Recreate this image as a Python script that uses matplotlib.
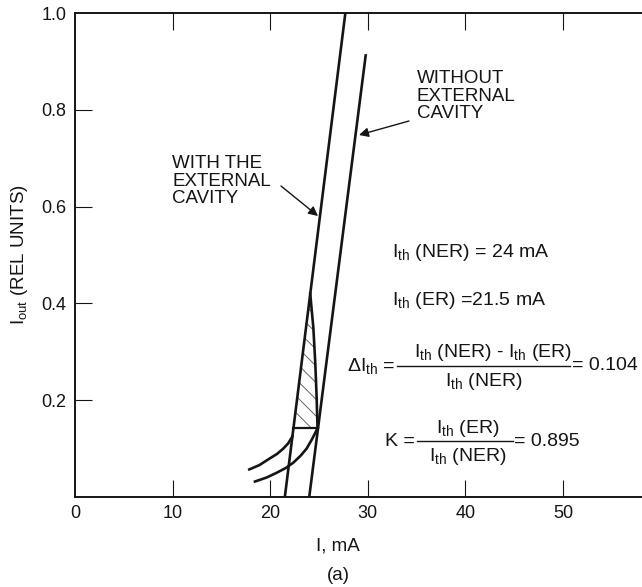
import matplotlib
matplotlib.use("Agg")
import matplotlib.pyplot as plt
from matplotlib.patches import Polygon
from matplotlib.lines import Line2D

plt.rcParams["font.family"] = ["Liberation Sans", "DejaVu Sans"]
plt.rcParams["mathtext.fontset"] = "custom"
plt.rcParams["mathtext.rm"] = "Liberation Sans"
plt.rcParams["mathtext.it"] = "Liberation Sans:italic"
plt.rcParams["mathtext.bf"] = "Liberation Sans:bold"
plt.rcParams["hatch.color"] = "0.4"
plt.rcParams["hatch.linewidth"] = 0.7

INK = "#151515"

# Threshold currents (mA) and derived ratios
ith_ner = 24.0
ith_er = 21.5
delta_ith = 0.104
k_ratio = 0.895

# Light-current characteristics above threshold
with_ec_I = [ith_er, 27.7]
with_ec_P = [0.0, 1.0]
without_ec_I = [ith_ner, 29.8]
without_ec_P = [0.0, 0.915]

# Sub-threshold (spontaneous) branches
spont_ec_I = [17.86, 18.9, 19.98, 20.7, 21.34, 21.85, 22.27]
spont_ec_P = [0.057, 0.066, 0.080, 0.089, 0.100, 0.111, 0.125]
spont_nec_I = [18.44, 19.6, 20.66, 21.6, 22.37, 23.1, 23.73, 24.3, 24.85]
spont_nec_P = [0.032, 0.040, 0.050, 0.060, 0.071, 0.085, 0.100, 0.120, 0.142]

# Edge of the shaded gain region, from the lower branch up to the cusp
edge_I = [24.85, 24.75, 24.62, 24.42, 24.1]
edge_P = [0.142, 0.21, 0.276, 0.35, 0.42]
level_P = 0.142

x_ticks = [0, 10, 20, 30, 40, 50]
y_ticks = [0.2, 0.4, 0.6, 0.8, 1.0]
y_tick_labels = ["0.2", "0.4", "0.6", "0.8", "1.0"]

fig = plt.figure(figsize=(6.42, 5.87), dpi=100)
ax = fig.add_axes([75 / 642, 90 / 587, 567 / 642, 484 / 587])
ax.set_xlim(0, 567 / 9.76)
ax.set_ylim(0, 1.0)

for s in ("left", "bottom", "top"):
    ax.spines[s].set_linewidth(1.4)
    ax.spines[s].set_color(INK)
ax.spines["right"].set_visible(False)

ax.set_xticks(x_ticks)
ax.set_xticklabels([str(v) for v in x_ticks])
ax.set_yticks(y_ticks)
ax.set_yticklabels(y_tick_labels)
ax.tick_params(axis="both", direction="in", length=12.5, width=0.8,
               colors=INK, labelsize=13, pad=6, top=True)
for t in ax.xaxis.get_major_ticks():
    if t.get_loc() == 0:
        t.tick1line.set_visible(False)
        t.tick2line.set_visible(False)
for t in ax.yaxis.get_major_ticks():
    if t.get_loc() == 1.0:
        t.tick1line.set_visible(False)

lw = 1.9
ax.plot(with_ec_I, with_ec_P, color=INK, lw=lw, solid_capstyle="butt")
ax.plot(without_ec_I, without_ec_P, color=INK, lw=lw, solid_capstyle="butt")
ax.plot(spont_ec_I, spont_ec_P, color=INK, lw=lw)
ax.plot(spont_nec_I, spont_nec_P, color=INK, lw=lw)
ax.plot(edge_I, edge_P, color=INK, lw=lw)

# horizontal level between the two characteristics
slope_ec = (with_ec_P[1] - with_ec_P[0]) / (with_ec_I[1] - with_ec_I[0])
left_I = with_ec_I[0] + level_P / slope_ec
ax.plot([left_I, edge_I[0]], [level_P, level_P], color=INK, lw=1.6)

# hatched region bounded by the ER characteristic and the curved edge
poly = [(left_I, level_P)] + list(zip(edge_I[::-1], edge_P[::-1]))
ax.add_patch(Polygon(poly, closed=True, fill=False, hatch="\\\\",
                     lw=0, edgecolor="0.4"))


def px(xp, yp):
    """pixel position -> data coordinates"""
    return (xp - 75) / 9.76, (497 - yp) / 484


def fig_px(xp, yp):
    return xp / 642, 1 - yp / 587


fs = 13.5
ffs = 14
ax.text(*px(172, 155), "WITH THE\nEXTERNAL\nCAVITY", fontsize=fs,
        ha="left", va="top", color=INK, linespacing=1.05)
ax.annotate("", xy=px(318, 216), xytext=px(281, 186),
            arrowprops=dict(arrowstyle="-|>", color=INK, lw=1.0,
                            mutation_scale=14, shrinkA=0, shrinkB=0))
ax.text(*px(417, 70), "WITHOUT\nEXTERNAL\nCAVITY", fontsize=fs,
        ha="left", va="top", color=INK, linespacing=1.05)
ax.annotate("", xy=px(359, 135), xytext=px(409, 121),
            arrowprops=dict(arrowstyle="-|>", color=INK, lw=1.0,
                            mutation_scale=14, shrinkA=0, shrinkB=0))

ith = r"$\mathrm{I}_{\mathrm{th}}$"
ax.text(*px(392, 257), f"{ith} (NER) = {ith_ner:g} mA", fontsize=ffs,
        ha="left", va="baseline", color=INK)
ax.text(*px(392, 305), f"{ith} (ER) ={ith_er:g} mA", fontsize=ffs,
        ha="left", va="baseline", color=INK)

# relative threshold change
ax.text(*px(395, 366), r"$\Delta$" + ith + " =", fontsize=ffs,
        ha="right", va="center", color=INK)
fig.add_artist(Line2D([397 / 642, 570 / 642], [1 - 366 / 587] * 2,
                      color=INK, lw=1.0))
ax.text(*px(572, 357), f"{ith} (NER) - {ith} (ER)", fontsize=ffs,
        ha="right", va="baseline", color=INK)
ax.text(*px(484, 386), f"{ith} (NER)", fontsize=ffs,
        ha="center", va="baseline", color=INK)
ax.text(*px(572, 366), f"= {delta_ith:.3f}", fontsize=ffs,
        ha="left", va="center", color=INK)

# ratio K
ax.text(*px(415, 441), "K =", fontsize=ffs, ha="right", va="center",
        color=INK)
fig.add_artist(Line2D([417 / 642, 513 / 642], [1 - 441 / 587] * 2,
                      color=INK, lw=1.0))
ax.text(*px(468, 433), f"{ith} (ER)", fontsize=ffs,
        ha="center", va="baseline", color=INK)
ax.text(*px(468, 461), f"{ith} (NER)", fontsize=ffs,
        ha="center", va="baseline", color=INK)
ax.text(*px(514, 441), f"= {k_ratio:.3f}", fontsize=ffs,
        ha="left", va="center", color=INK)

ax.set_ylabel(r"$\mathrm{I}_{\mathrm{out}}$ (REL UNITS)", fontsize=fs,
              color=INK, labelpad=8)
fig.text(*fig_px(338, 546), "I, mA", fontsize=fs, ha="center",
         va="center", color=INK)
fig.text(*fig_px(338, 575), "(a)", fontsize=fs, ha="center",
         va="center", color=INK)

fig.savefig("out.png", dpi=100)
